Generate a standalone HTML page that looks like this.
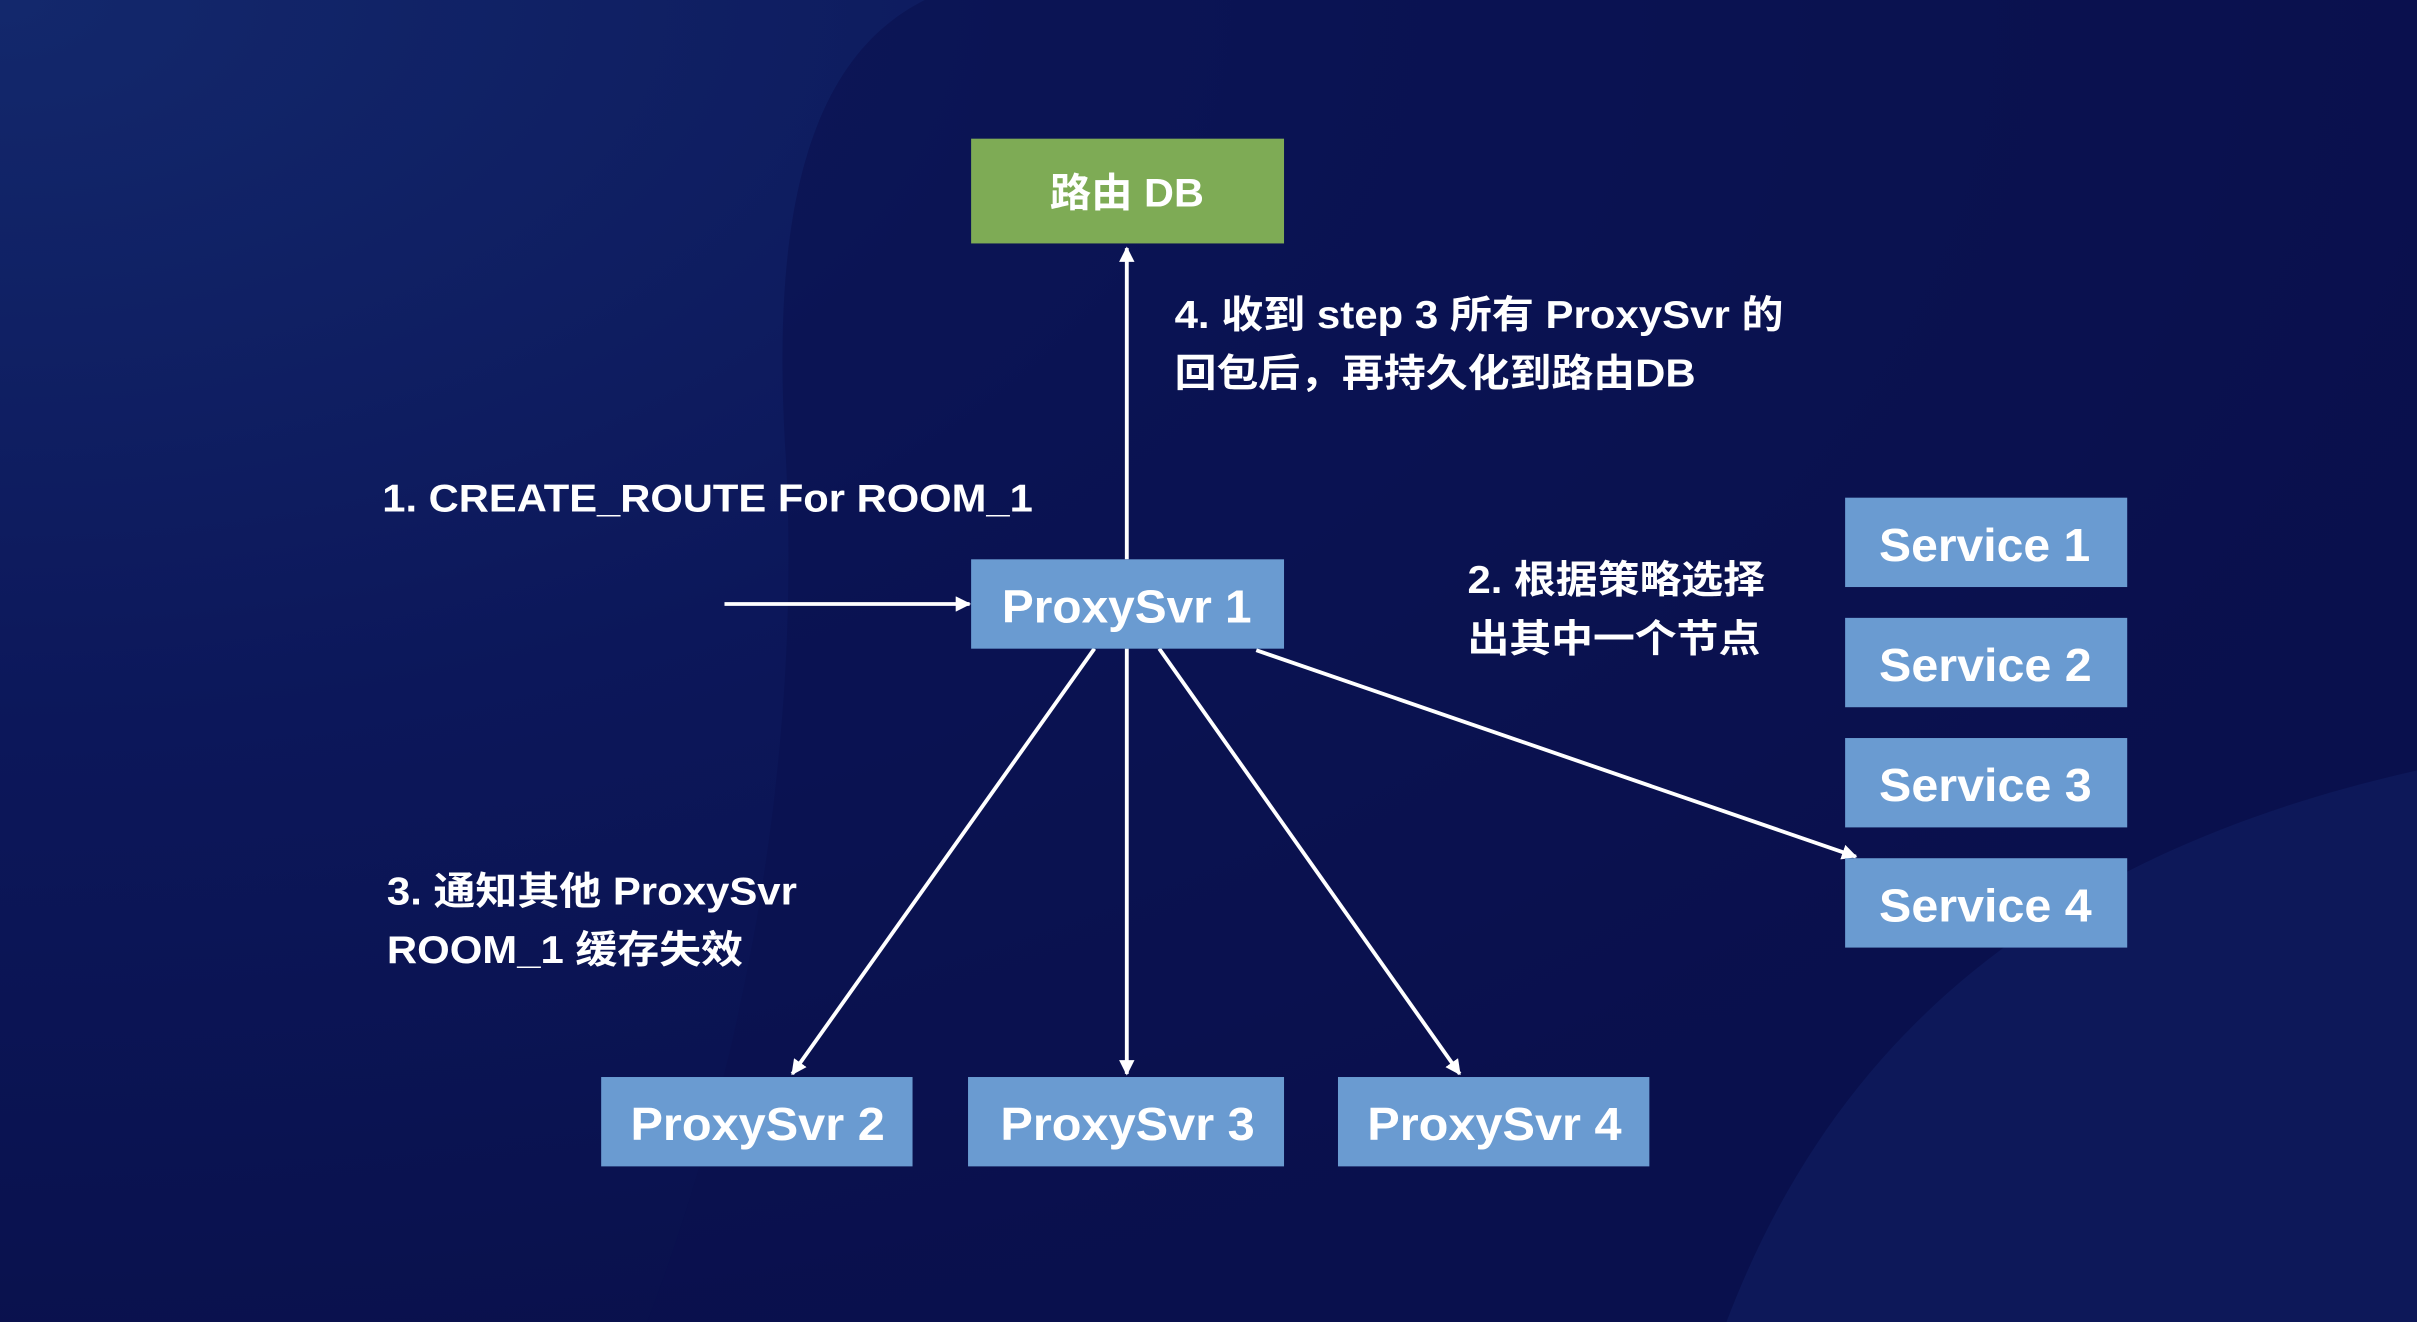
<!DOCTYPE html>
<html><head><meta charset="utf-8"><style>
html,body{margin:0;padding:0;width:2417px;height:1322px;overflow:hidden;background:#0a114f;}
svg{display:block}
text{font-family:"Liberation Sans","Noto Sans CJK SC",sans-serif;font-weight:bold;fill:#fff;}
</style></head><body>
<svg width="2417" height="1322" viewBox="0 0 1568 858" preserveAspectRatio="none" xmlns="http://www.w3.org/2000/svg">
<defs>
<radialGradient id="bg1" cx="0" cy="0" r="1.1">
<stop offset="0" stop-color="#13286c"/>
<stop offset="0.5" stop-color="#0c175a"/>
<stop offset="1" stop-color="#09104b"/>
</radialGradient>
<marker id="a" markerWidth="10" markerHeight="10" refX="9" refY="5" orient="auto" markerUnits="userSpaceOnUse">
<path d="M0,0 L10,5 L0,10 z" fill="#fff"/>
</marker>
</defs>
<rect width="1568" height="858" fill="url(#bg1)"/>
<path d="M600,0 C520,40 500,150 510,300 C520,500 480,700 420,858 L1568,858 L1568,0 Z" fill="#0a114f" opacity="0.6"/>
<path d="M1120,858 C1180,700 1300,560 1568,500 L1568,858 Z" fill="#101c5e" opacity="0.7"/>

<g stroke="#fff" stroke-width="2.5" fill="none">
<line x1="731" y1="363" x2="731" y2="161" marker-end="url(#a)"/>
<line x1="470" y1="392" x2="629" y2="392" marker-end="url(#a)"/>
<line x1="710" y1="421" x2="514" y2="697" marker-end="url(#a)"/>
<line x1="731" y1="421" x2="731" y2="697" marker-end="url(#a)"/>
<line x1="752" y1="421" x2="947" y2="697" marker-end="url(#a)"/>
<line x1="815" y1="422" x2="1204" y2="556" marker-end="url(#a)"/>
</g>

<rect x="630" y="90" width="203" height="68" fill="#7eab55"/>
<text x="681" y="134" font-size="26" textLength="100" lengthAdjust="spacingAndGlyphs">路由 DB</text>

<rect x="630" y="363" width="203" height="58" fill="#6a9bd1"/>
<text x="650" y="404" font-size="30" textLength="162" lengthAdjust="spacingAndGlyphs">ProxySvr 1</text>

<rect x="390" y="699" width="202" height="58" fill="#6a9bd1"/>
<text x="409" y="740" font-size="30" textLength="165" lengthAdjust="spacingAndGlyphs">ProxySvr 2</text>
<rect x="628" y="699" width="205" height="58" fill="#6a9bd1"/>
<text x="649" y="740" font-size="30" textLength="165" lengthAdjust="spacingAndGlyphs">ProxySvr 3</text>
<rect x="868" y="699" width="202" height="58" fill="#6a9bd1"/>
<text x="887" y="740" font-size="30" textLength="165" lengthAdjust="spacingAndGlyphs">ProxySvr 4</text>

<rect x="1197" y="323" width="183" height="58" fill="#6a9bd1"/>
<text x="1219" y="364" font-size="30" textLength="137" lengthAdjust="spacingAndGlyphs">Service 1</text>
<rect x="1197" y="401" width="183" height="58" fill="#6a9bd1"/>
<text x="1219" y="442" font-size="30" textLength="138" lengthAdjust="spacingAndGlyphs">Service 2</text>
<rect x="1197" y="479" width="183" height="58" fill="#6a9bd1"/>
<text x="1219" y="520" font-size="30" textLength="138" lengthAdjust="spacingAndGlyphs">Service 3</text>
<rect x="1197" y="557" width="183" height="58" fill="#6a9bd1"/>
<text x="1219" y="598" font-size="30" textLength="138" lengthAdjust="spacingAndGlyphs">Service 4</text>

<text x="762" y="213" font-size="25" textLength="395" lengthAdjust="spacingAndGlyphs">4. 收到 step 3 所有 ProxySvr 的</text>
<text x="762" y="251" font-size="25" textLength="338" lengthAdjust="spacingAndGlyphs">回包后，再持久化到路由DB</text>
<text x="248" y="332" font-size="25" textLength="422" lengthAdjust="spacingAndGlyphs">1. CREATE_ROUTE For ROOM_1</text>
<text x="952" y="385" font-size="25" textLength="193" lengthAdjust="spacingAndGlyphs">2. 根据策略选择</text>
<text x="952" y="423" font-size="25" textLength="190" lengthAdjust="spacingAndGlyphs">出其中一个节点</text>
<text x="251" y="587" font-size="25" textLength="266" lengthAdjust="spacingAndGlyphs">3. 通知其他 ProxySvr</text>
<text x="251" y="625" font-size="25" textLength="231" lengthAdjust="spacingAndGlyphs">ROOM_1 缓存失效</text>
</svg>
</body></html>
